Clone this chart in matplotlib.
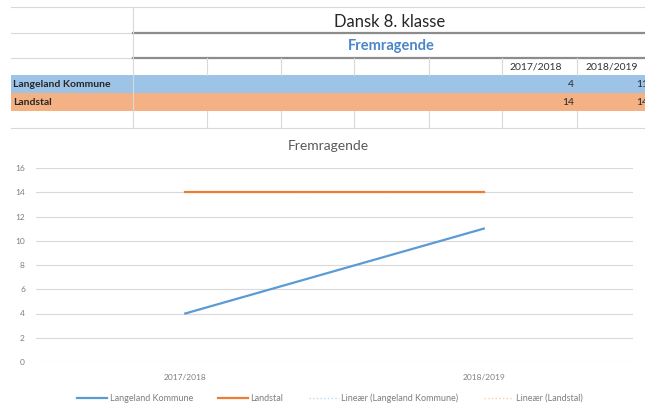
import matplotlib
matplotlib.use('Agg')
import matplotlib.pyplot as plt
from matplotlib.lines import Line2D
from matplotlib.patches import Rectangle

plt.rcParams['font.family'] = ['Lato', 'DejaVu Sans']

# data
aar = ['2017/2018', '2018/2019']
serier = ['Langeland Kommune', 'Landstal']
langeland = [4, 11]
landstal = [14, 14]
vaerdier = [langeland, landstal]

blaa = '#5b9bd5'
orange = '#ed7d31'
raekke_farver = ['#9dc3e6', '#f4b183']

fig = plt.figure(figsize=(6.45, 4.12), dpi=100)

# regneark-delen tegnes i pixelkoordinater
bg = fig.add_axes([0, 0, 1, 1])
bg.set_xlim(0, 645)
bg.set_ylim(412, 0)
bg.axis('off')

gitter = '#d9d9d9'
kolonner = [133, 207, 281, 354, 429, 502, 577, 651]

bg.plot([11, 645], [7, 7], color=gitter, lw=0.8)
bg.plot([11, 133], [33, 33], color=gitter, lw=0.8)
bg.plot([11, 133], [58, 58], color=gitter, lw=0.8)
bg.plot([133, 645], [33, 33], color='#8c8c8c', lw=1.6)
bg.plot([133, 645], [58, 58], color='#8c8c8c', lw=1.6)
bg.plot([11, 645], [128, 128], color=gitter, lw=0.8)
bg.plot([133, 133], [7, 128], color=gitter, lw=0.8)
for x in kolonner[1:-1]:
    bg.plot([x, x], [58, 75], color=gitter, lw=0.8)
    bg.plot([x, x], [111, 128], color=gitter, lw=0.8)

bg.text(390, 22, 'Dansk 8. klasse', fontsize=12, color='#262626', ha='center', va='center')
bg.text(391, 46, 'Fremragende', fontsize=10.5, color='#4a86c8', fontweight='bold',
        ha='center', va='center')

for j, a in enumerate(aar):
    bg.text(kolonner[6 + j] - 15 + 2 * j, 67, a, fontsize=7.5, color='#333333',
            ha='right', va='center')

for i, navn in enumerate(serier):
    y0 = 75 + i * 18
    bg.add_patch(Rectangle((11, y0), 634, 18, color=raekke_farver[i], lw=0))
    bg.text(13, y0 + 9, navn, fontsize=7.5, color='#262626', fontweight='bold',
            ha='left', va='center')
    for j, v in enumerate(vaerdier[i]):
        bg.text(kolonner[6 + j] - 3, y0 + 9, str(v), fontsize=7.5, color='#262626',
                ha='right', va='center')

# diagrammet
ax = fig.add_axes([36 / 645, 50 / 412, 597 / 645, 194 / 412])
x = list(range(len(aar)))

ax.plot(x, langeland, ':', color='#bdd7ee', lw=1, zorder=2)
ax.plot(x, landstal, ':', color='#f8cbad', lw=1, zorder=2)
ax.plot(x, langeland, color=blaa, lw=1.6, zorder=3)
ax.plot(x, landstal, color=orange, lw=1.6, zorder=3)

ax.set_xlim(-0.5, len(aar) - 0.5)
ax.set_ylim(0, 16)
ax.set_yticks(range(0, 17, 2))
ax.set_xticks(x)
ax.set_xticklabels(aar)
ax.grid(axis='y', color=gitter, lw=0.8)
ax.set_axisbelow(True)
for s in ax.spines.values():
    s.set_visible(False)
ax.tick_params(length=0, labelsize=6, labelcolor='#7f7f7f')
ax.tick_params(axis='x', pad=9)
ax.tick_params(axis='y', pad=8)

fig.text(328 / 645, 1 - 146 / 412, 'Fremragende', fontsize=10, color='#595959',
         ha='center', va='center')

haandtag = [
    Line2D([], [], color=blaa, lw=1.6),
    Line2D([], [], color=orange, lw=1.6),
    Line2D([], [], color='#bdd7ee', lw=1, ls=':'),
    Line2D([], [], color='#f8cbad', lw=1, ls=':'),
]
etiketter = serier + ['Lineær (' + s + ')' for s in serier]
fig.legend(haandtag, etiketter, loc='center', bbox_to_anchor=(330 / 645, 1 - 398 / 412),
           ncol=4, frameon=False, fontsize=6.5, handlelength=3.3, handletextpad=0.3,
           columnspacing=2.8, labelcolor='#7f7f7f')

fig.savefig('out.png', dpi=100)
